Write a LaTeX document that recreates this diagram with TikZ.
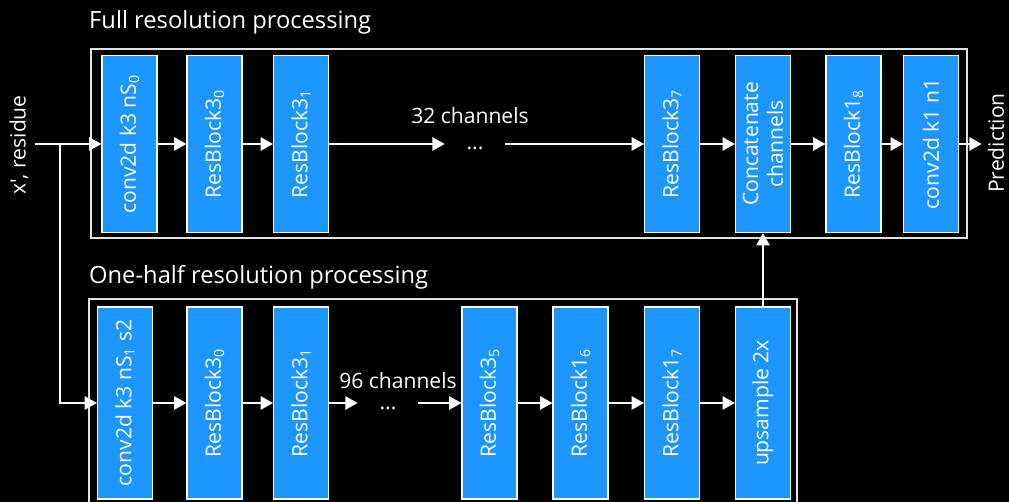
\documentclass[tikz,border=0pt]{standalone}
\usepackage{fontspec}
\setmainfont{Open Sans}
\usepackage{tikz}
\usetikzlibrary{arrows.meta}
\definecolor{blkblue}{RGB}{30,150,255}
\definecolor{framegray}{RGB}{225,225,225}

\begin{document}
\begin{tikzpicture}[x=0.02cm,y=-0.02cm,
    blk/.style={draw=white,line width=0.6pt,fill=blkblue,text=white,rotate=90,
        minimum width=3.54cm,minimum height=1.1cm,inner sep=0pt,align=center,
        font=\fontsize{12}{14}\selectfont},
    lowblk/.style={blk,minimum width=3.84cm},
    frame/.style={draw=framegray,line width=1.1pt},
    lbl/.style={text=white,font=\fontsize{12}{14}\selectfont},
    dots/.style={lbl,minimum width=1.2cm,inner sep=0pt},
    ttl/.style={text=white,anchor=west,font=\fontsize{13.5}{16}\selectfont},
    conn/.style={draw=white,line width=1.1pt,-{Triangle[width=7.5pt,length=7pt]}}]
    \fill[black] (0,0) rectangle (1009,502);
    \useasboundingbox (0,0) rectangle (1009,502);
    \node[ttl] (fulltitle) at (83,22) {Full resolution processing};
    \node[ttl] (halftitle) at (83,277) {One-half resolution processing};
    \draw[frame] (91,49) rectangle (967,238);
    \draw[frame] (89,299) rectangle (797,520);
    \node[lbl,rotate=90] (inres) at (19,145) {x\textquotesingle, residue};
    \node[lbl,rotate=90] (pred) at (996,143) {Prediction};
    \node[blk] (convA) at (129.5,144) {conv2d k3 nS\textsubscript{0}};
    \node[blk] (rbA0) at (214.5,144) {ResBlock3\textsubscript{0}};
    \node[blk] (rbA1) at (301,144) {ResBlock3\textsubscript{1}};
    \node[dots] (dotsA) at (475,148) {...};
    \node[lbl] (chA) at (470,116) {32 channels};
    \node[blk] (rbA7) at (672,144) {ResBlock3\textsubscript{7}};
    \node[blk] (concat) at (763,144) {Concatenate\\channels};
    \node[blk] (rbA8) at (853.5,144) {ResBlock1\textsubscript{8}};
    \node[blk] (convB) at (931,144) {conv2d k1 n1};
    \node[lowblk] (convH) at (125,403) {conv2d k3 nS\textsubscript{1} s2};
    \node[lowblk] (rbH0) at (214.5,403) {ResBlock3\textsubscript{0}};
    \node[lowblk] (rbH1) at (301,403) {ResBlock3\textsubscript{1}};
    \node[dots] (dotsH) at (388,408) {...};
    \node[lbl] (chH) at (398,381) {96 channels};
    \node[lowblk] (rbH5) at (489.5,403) {ResBlock3\textsubscript{5}};
    \node[lowblk] (rbH6) at (580.5,403) {ResBlock1\textsubscript{6}};
    \node[lowblk] (rbH7) at (672,403) {ResBlock1\textsubscript{7}};
    \node[lowblk] (upsm) at (763,403) {upsample 2x};
    \coordinate (split) at (60,144);
    \draw[conn] (inres.south |- convA) -- (convA);
    \draw[conn] (split) |- (convH);
    \draw[conn] (convA) -- (rbA0);
    \draw[conn] (rbA0) -- (rbA1);
    \draw[conn] (rbA1) -- (dotsA.west |- rbA1);
    \draw[conn] (dotsA.east |- rbA7) -- (rbA7);
    \draw[conn] (rbA7) -- (concat);
    \draw[conn] (concat) -- (rbA8);
    \draw[conn] (rbA8) -- (convB);
    \draw[conn] (convB) -- (pred.north |- convB);
    \draw[conn] (convH) -- (rbH0);
    \draw[conn] (rbH0) -- (rbH1);
    \draw[conn] (rbH1) -- (dotsH.west |- rbH1);
    \draw[conn] (dotsH.east |- rbH5) -- (rbH5);
    \draw[conn] (rbH5) -- (rbH6);
    \draw[conn] (rbH6) -- (rbH7);
    \draw[conn] (rbH7) -- (upsm);
    \draw[conn] (upsm) -- (concat);
\end{tikzpicture}
\end{document}
